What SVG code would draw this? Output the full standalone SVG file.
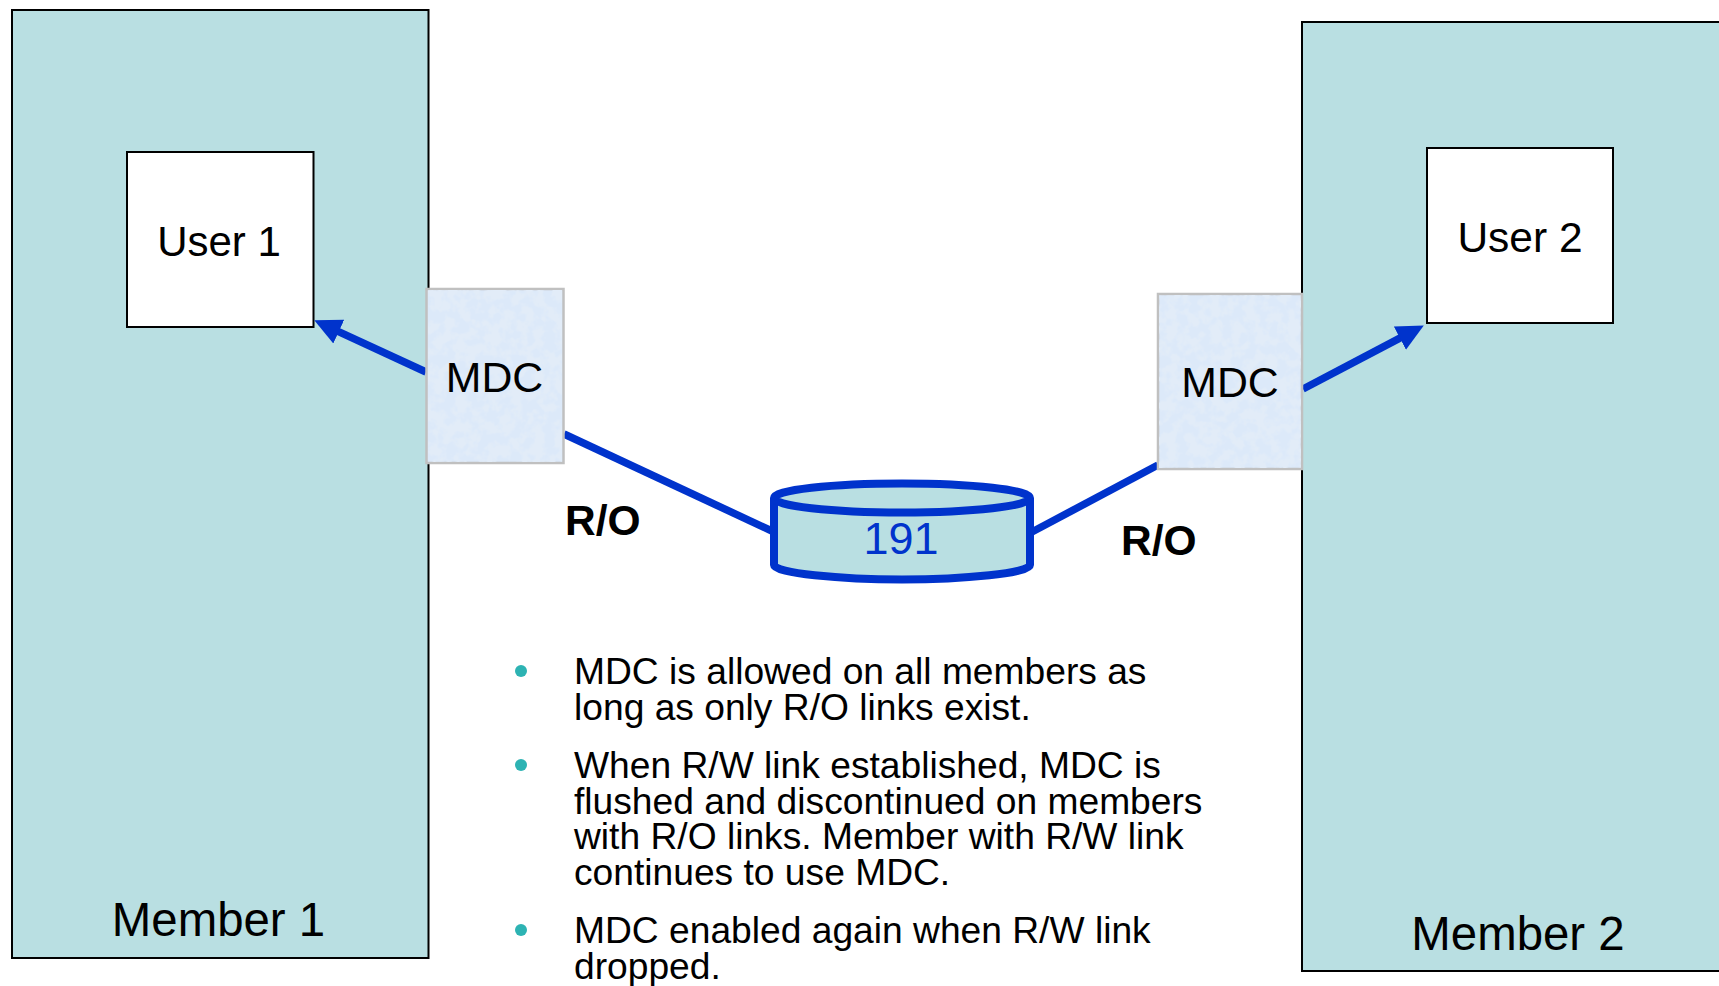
<svg xmlns="http://www.w3.org/2000/svg" width="1719" height="986" viewBox="0 0 1719 986">
<style>
text{font-family:"Liberation Sans",Arial,sans-serif;fill:#000}
.member{fill:#b9dfe2;stroke:#000;stroke-width:2}
.user{fill:#fff;stroke:#000;stroke-width:2}
.mdc{fill:#dce9f9;stroke:#c0c0c0;stroke-width:2.500}
.tex{filter:url(#mottle)}
.lbl{font-size:42px}
.big{font-size:47.400px}
.mt{font-size:42.800px}
.ro{font-size:42.500px;font-weight:bold}
.link{stroke:#0033cc;stroke-width:7.500;fill:none}
.cyl{stroke:#0033cc;stroke-width:8;fill:#b9dfe2}
.b{font-size:37.200px}
.dot{fill:#2db3b3}
</style>
<defs>
<marker id="ah" markerUnits="userSpaceOnUse" markerWidth="30" markerHeight="30" viewBox="0 0 30 30" refX="8" refY="15" orient="auto"><path d="M0 2 L27 15 L0 28 Z" fill="#0033cc"/></marker>
<filter id="mottle" x="0" y="0" width="100%" height="100%"><feTurbulence type="fractalNoise" baseFrequency="0.09" numOctaves="3" seed="4"/><feColorMatrix values="0 0 0 0 .76  0 0 0 0 .84  0 0 0 0 .94  5 0 0 0 -2"/></filter>
</defs>
<g id="member1"><rect class="member" x="12" y="10" width="416.500" height="948"/><text class="big" x="218.500" y="936" text-anchor="middle">Member 1</text></g>
<g id="member2"><rect class="member" x="1302" y="22" width="430" height="949"/><text class="big" x="1518" y="950" text-anchor="middle">Member 2</text></g>
<g id="user1"><rect class="user" x="127" y="152" width="186.500" height="175"/><text class="lbl" x="219" y="256" text-anchor="middle">User 1</text></g>
<g id="user2"><rect class="user" x="1427" y="148" width="186" height="175"/><text class="lbl" x="1520" y="252" text-anchor="middle" style="font-size:42.500px">User 2</text></g>
<g id="connectors">
<line class="link" x1="426" y1="372" x2="331.500" y2="328.300" marker-end="url(#ah)"/>
<line class="link" x1="1303" y1="389" x2="1407" y2="334.400" marker-end="url(#ah)"/>
<line class="link" x1="564" y1="434" x2="774" y2="532"/>
<line class="link" x1="1158" y1="465" x2="1030" y2="533"/>
</g>
<g id="mdc1"><rect class="mdc" x="426.500" y="289" width="137" height="174"/><rect class="tex" x="428" y="290.500" width="134" height="171"/><text class="mt" x="494.500" y="392" text-anchor="middle">MDC</text></g>
<g id="mdc2"><rect class="mdc" x="1158" y="294" width="144" height="175"/><rect class="tex" x="1159.500" y="295.500" width="141" height="172"/><text class="mt" x="1230" y="397" text-anchor="middle">MDC</text></g>
<g id="disk191">
<path class="cyl" stroke-linejoin="round" d="M774 498 V565 C774 573 840 579.500 902 579.500 C964 579.500 1030 573 1030 565 V498"/>
<ellipse class="cyl" cx="902" cy="498" rx="128" ry="14.500"/>
<text x="901" y="554" text-anchor="middle" style="font-size:45px;fill:#0033cc">191</text>
</g>
<text class="ro" x="565" y="535">R/O</text>
<text class="ro" x="1121" y="555">R/O</text>
<g id="notes">
<circle class="dot" cx="521" cy="671" r="6"/>
<text class="b" x="574" y="684">MDC is allowed on all members as</text>
<text class="b" x="574" y="720">long as only R/O links exist.</text>
<circle class="dot" cx="521" cy="765" r="6"/>
<text class="b" x="574" y="778">When R/W link established, MDC is</text>
<text class="b" x="574" y="814">flushed and discontinued on members</text>
<text class="b" x="574" y="849">with R/O links. Member with R/W link</text>
<text class="b" x="574" y="885">continues to use MDC.</text>
<circle class="dot" cx="521" cy="930" r="6"/>
<text class="b" x="574" y="943">MDC enabled again when R/W link</text>
<text class="b" x="574" y="979">dropped.</text>
</g>
</svg>
